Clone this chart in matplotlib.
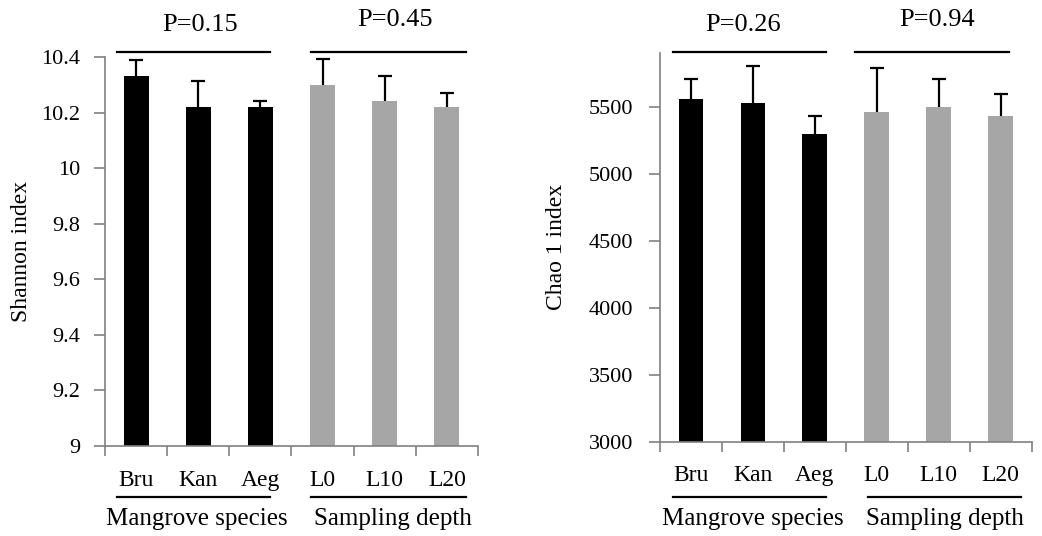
import matplotlib
matplotlib.use("Agg")
import matplotlib.pyplot as plt
import matplotlib.transforms as mtransforms
import numpy as np

plt.rcParams["font.family"] = ["Liberation Serif", "DejaVu Serif"]

categories = ["Bru", "Kan", "Aeg", "L0", "L10", "L20"]
groups = ["Mangrove species", "Sampling depth"]

shannon = [10.33, 10.22, 10.22, 10.30, 10.24, 10.22]
shannon_err = [0.058, 0.092, 0.022, 0.092, 0.091, 0.052]
shannon_p = ["P=0.15", "P=0.45"]

chao = [5560, 5530, 5296, 5460, 5500, 5433]
chao_err = [144, 271, 135, 329, 204, 164]
chao_p = ["P=0.26", "P=0.94"]

bar_colors = ["#000000"] * 3 + ["#A6A6A6"] * 3


def draw_panel(ax, values, errs, pvals, ylabel, ylim, yticks, ticklabels,
               top_y, p_y, p_x, bot_y, lab_y, lab_x, top_spans, bot_spans,
               ylab_x, ypad):
    x = np.arange(len(categories))
    ax.bar(x, [v - ylim[0] for v in values], bottom=ylim[0], width=0.4,
           color=bar_colors, edgecolor="none", zorder=2)
    eb = ax.errorbar(x, values, yerr=[np.zeros(len(errs)), errs], fmt="none",
                     ecolor="black", elinewidth=1.6, capsize=5, capthick=1.6,
                     zorder=3)
    eb[1][0].set_visible(False)  # no cap at the bar top
    ax.set_xlim(-0.5, 5.5)
    ax.set_ylim(*ylim)
    ax.set_yticks(yticks)
    ax.set_yticklabels(ticklabels, fontsize=16)
    ax.tick_params(axis="y", direction="out", length=8, width=1.2,
                   color="#808080", pad=ypad)
    ax.set_xticks(np.arange(-0.5, 6.0, 1.0))
    ax.set_xticklabels([])
    ax.tick_params(axis="x", which="major", direction="out", length=7,
                   width=1.2, color="#808080")
    ax.set_xticks(x, minor=True)
    ax.set_xticklabels(categories, minor=True, fontsize=17)
    ax.tick_params(axis="x", which="minor", length=0, pad=17)
    for side in ["top", "right"]:
        ax.spines[side].set_visible(False)
    for side in ["left", "bottom"]:
        ax.spines[side].set_color("#808080")
        ax.spines[side].set_linewidth(1.2)
    ax.set_ylabel(ylabel, fontsize=17)
    ax.yaxis.set_label_coords(ylab_x, 0.5)

    trans = mtransforms.blended_transform_factory(ax.transData, ax.transAxes)
    for i in range(2):
        x0, x1 = top_spans[i]
        ax.plot([x0, x1], [top_y, top_y], color="black", lw=1.6,
                transform=trans, clip_on=False)
        ax.text(p_x[i], p_y[i], pvals[i], transform=trans,
                ha="center", va="center", fontsize=19)
        b0, b1 = bot_spans[i]
        ax.plot([b0, b1], [bot_y, bot_y], color="black", lw=1.6,
                transform=trans, clip_on=False)
        ax.text(lab_x[i], lab_y, groups[i], transform=trans,
                ha="center", va="center", fontsize=18)


fig = plt.figure(figsize=(10.42, 5.36), dpi=100)
ax1 = fig.add_axes([105 / 1042, 1 - 446 / 536, 373 / 1042, 389 / 536])
ax2 = fig.add_axes([660 / 1042, 1 - 441.7 / 536, 371.7 / 1042, 388.6 / 536])

draw_panel(ax1, shannon, shannon_err, shannon_p, "Shannon index",
           (9, 10.4), [9, 9.2, 9.4, 9.6, 9.8, 10, 10.2, 10.4],
           ["9", "9.2", "9.4", "9.6", "9.8", "10", "10.2", "10.4"],
           1.0136, [1.082, 1.095], [1.03, 4.17], -0.132, -0.188, [0.97, 4.13],
           [(-0.31, 2.15), (2.82, 5.30)], [(-0.31, 2.15), (2.82, 5.30)],
           -0.196, 10)

draw_panel(ax2, chao, chao_err, chao_p, "Chao 1 index",
           (3000, 5900), [3000, 3500, 4000, 4500, 5000, 5500],
           ["3000", "3500", "4000", "4500", "5000", "5500"],
           1.0036, [1.072, 1.085], [0.84, 3.97], -0.143, -0.200, [1.0, 4.1],
           [(-0.295, 2.18), (2.64, 5.13)], [(-0.295, 2.18), (2.85, 5.33)],
           -0.25, 11)

fig.savefig("out.png", dpi=100)
